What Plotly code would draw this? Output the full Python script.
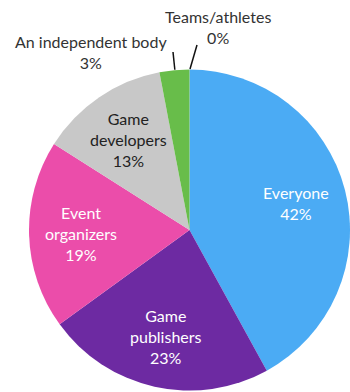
import math
import plotly.graph_objects as go

# Who should be responsible — share of responses
categories = ["Everyone", "Game publishers", "Event organizers",
              "Game developers", "An independent body", "Teams/athletes"]
display_labels = ["Everyone", "Game<br>publishers", "Event<br>organizers",
                  "Game<br>developers", "An independent body", "Teams/athletes"]
shares = [42, 23, 19, 13, 3, 0]
colors = ["#4BABF4", "#6D2AA2", "#EB4DAA", "#C8C8C8", "#68BD4A", "#68BD4A"]
inside_text_colors = ["#FFFFFF", "#FFFFFF", "#FFFFFF", "#222222"]

W, H = 350, 392
CX, CY, R = 190, 230, 161  # pie centre and radius in pixels
FONT = "Lato, Carlito, Calibri, sans-serif"


def px(x):
    return x / W


def py(y):
    return 1 - y / H


fig = go.Figure(go.Pie(
    labels=categories,
    values=shares,
    sort=False,
    direction="clockwise",
    rotation=0,
    marker=dict(colors=colors, line=dict(width=0)),
    textinfo="none",
    hoverinfo="label+percent",
    domain=dict(x=[px(CX - R), px(CX + R) if CX + R <= W else 1],
                y=[py(CY + R), py(CY - R)]),
    showlegend=False,
))

total = sum(shares)
angles = []
acc = 0
for v in shares:
    start = acc / total * 360
    acc += v
    end = acc / total * 360
    angles.append((start + end) / 2)

annotations = []
# labels inside the four large slices
for i in range(4):
    a = math.radians(angles[i])
    r = 0.68 * R
    x = CX + r * math.sin(a)
    y = CY - r * math.cos(a)
    annotations.append(dict(
        x=px(x), y=py(y), xref="paper", yref="paper",
        text=f"{display_labels[i]}<br>{shares[i]}%",
        showarrow=False, xanchor="center", yanchor="middle",
        font=dict(family=FONT, size=16, color=inside_text_colors[i]),
    ))

# labels outside the two thin slices, with leader lines
outside = [
    (4, (91, 52), (173, 52)),
    (5, (218, 27), (197, 45)),
]
shapes = []
for i, (tx, ty), (lx, ly) in outside:
    annotations.append(dict(
        x=px(tx), y=py(ty), xref="paper", yref="paper",
        text=f"{display_labels[i]}<br>{shares[i]}%",
        showarrow=False, xanchor="center", yanchor="middle",
        font=dict(family=FONT, size=16, color="#333333"),
    ))
    a = math.radians(angles[i])
    ex = CX + R * math.sin(a)
    ey = CY - R * math.cos(a)
    shapes.append(dict(
        type="line", xref="paper", yref="paper",
        x0=px(ex), y0=py(ey), x1=px(lx), y1=py(ly),
        line=dict(color="#111111", width=1.5),
    ))

fig.update_layout(
    width=W, height=H,
    margin=dict(l=0, r=0, t=0, b=0),
    paper_bgcolor="white",
    plot_bgcolor="white",
    annotations=annotations,
    shapes=shapes,
)

fig.write_html("out.html")
